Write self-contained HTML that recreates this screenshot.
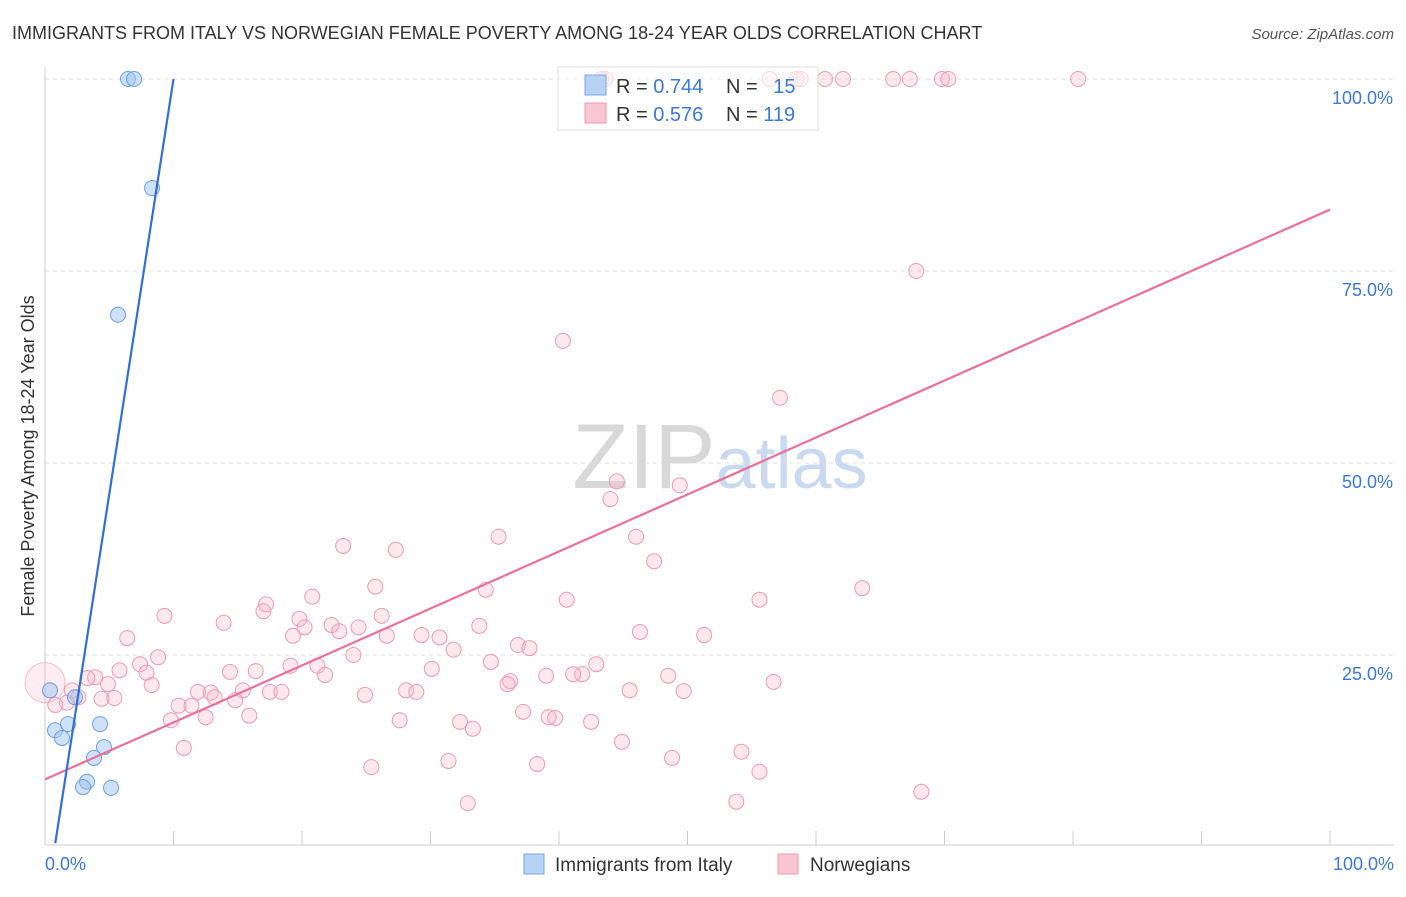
<!DOCTYPE html>
<html><head><meta charset="utf-8">
<style>
body{margin:0;background:#fff;font-family:"Liberation Sans",sans-serif;}
svg text{font-family:"Liberation Sans",sans-serif;}
</style></head><body>
<svg id="chart" width="1406" height="892" xmlns="http://www.w3.org/2000/svg">
<text x="12" y="39" font-size="18" fill="#333">IMMIGRANTS FROM ITALY VS NORWEGIAN FEMALE POVERTY AMONG 18-24 YEAR OLDS CORRELATION CHART</text>
<text x="1394" y="39" font-size="15" fill="#555" text-anchor="end" font-style="italic">Source: ZipAtlas.com</text>
<text x="720" y="488" font-size="92" text-anchor="middle" fill="#ddd" font-family="Liberation Serif"><tspan fill="#d8d8d8">ZIP</tspan><tspan fill="#c9daf0" font-family="Liberation Sans" font-size="72">atlas</tspan></text>
<text transform="translate(34,456) rotate(-90)" font-size="18" fill="#333" text-anchor="middle">Female Poverty Among 18-24 Year Olds</text>
<g id="grid"></g>
<g id="marks"></g>
<g>
<rect x="558" y="67" width="260" height="63" fill="#fff" fill-opacity="0.6" stroke="#ddd"/>
<rect x="585" y="75" width="21" height="20" fill="#b8d2f4" stroke="#7aa6e6"/>
<rect x="585" y="103" width="21" height="20" fill="#f9c6d4" stroke="#eb9ab2"/>
<text x="616" y="93" font-size="20" fill="#333">R = <tspan fill="#3b78d8">0.744</tspan></text>
<text x="726" y="93" font-size="20" fill="#333">N = <tspan fill="#3b78d8" dx="10">15</tspan></text>
<text x="616" y="121" font-size="20" fill="#333">R = <tspan fill="#3b78d8">0.576</tspan></text>
<text x="726" y="121" font-size="20" fill="#333">N = <tspan fill="#3b78d8">119</tspan></text>
</g>
<g>
<rect x="524" y="854" width="20" height="20" fill="#b8d2f4" stroke="#7aa6e6"/>
<text x="555" y="871" font-size="19" fill="#333">Immigrants from Italy</text>
<rect x="778" y="854" width="20" height="20" fill="#f9c6d4" stroke="#eb9ab2"/>
<text x="810" y="871" font-size="19" fill="#333">Norwegians</text>
</g>
</svg>
<script>
const yTicks=[25,50,75,100];
const yTickLabels=["25.0%","50.0%","75.0%","100.0%"];
const xTicks=[0,10,20,30,40,50,60,70,80,90,100];
const blueX=[6.46,6.93,8.33,5.68,0.39,2.33,0.78,1.32,1.79,4.28,4.59,3.81,3.27,2.96,5.14];
const blueY=[100,100,85.8,69.3,20.4,19.5,15.2,14.2,16.0,16.0,13.0,11.6,8.5,7.8,7.7];
const pinkX=[43.3,43.6,56.4,58.5,58.8,60.7,62.1,66.0,67.3,69.8,70.3,80.4,67.8,40.3,57.2,44.5,44.0,49.4,35.3,46.0,23.2,27.3,47.4,34.3,25.7,40.6,55.6,63.6,20.8,17.2,17.0,9.3,13.9,19.8,26.2,46.3,51.3,33.8,22.3,20.2,19.3,22.9,24.4,26.6,29.3,30.7,31.8,36.8,37.7,6.4,8.8,7.4,42.9,34.7,21.2,19.1,30.1,41.8,41.1,24.0,7.9,5.8,16.4,14.4,48.5,21.8,36.2,36.0,39.0,56.7,3.9,3.3,4.9,8.3,2.6,1.7,4.4,5.4,11.9,12.9,13.2,15.4,17.5,18.4,14.8,28.1,28.9,24.9,45.5,49.7,10.4,11.4,12.5,15.9,9.8,27.6,32.3,37.2,39.2,39.7,42.5,33.3,44.9,10.8,54.2,48.8,31.4,38.3,25.4,55.6,32.9,53.8,68.2,2.1,0.8];
const pinkY=[100,100,100,100,100,100,100,100,100,100,100,100,75.0,65.9,58.5,47.6,45.3,47.1,40.4,40.4,39.2,38.7,37.2,33.5,33.9,32.2,32.2,33.7,32.6,31.6,30.7,30.1,29.2,29.7,30.1,28.0,27.6,28.8,28.9,28.6,27.5,28.1,28.6,27.5,27.6,27.3,25.7,26.3,25.9,27.2,24.7,23.8,23.8,24.1,23.6,23.6,23.2,22.5,22.5,25.0,22.7,23.0,22.9,22.8,22.3,22.4,21.6,21.2,22.3,21.5,22.1,22.0,21.2,21.1,19.5,18.8,19.3,19.4,20.2,20.1,19.5,20.4,20.2,20.2,19.1,20.4,20.2,19.8,20.4,20.3,18.4,18.4,16.9,17.1,16.5,16.5,16.3,17.6,16.9,16.8,16.3,15.4,13.7,12.9,12.4,11.6,11.2,10.8,10.4,9.8,5.7,5.9,7.2,20.4,18.5];
const blueLine=[[0.8,0.5],[10,100]];
const pinkLine=[[0,8.8],[100,83.0]];
const X=v=>45+v*12.85, Y=v=>847-v*7.68;
const NS="http://www.w3.org/2000/svg";
const grid=document.getElementById('grid'), marks=document.getElementById('marks');
function mk(tag,attrs,parent){const e=document.createElementNS(NS,tag);for(const k in attrs)e.setAttribute(k,attrs[k]);parent.appendChild(e);return e;}
yTicks.forEach((t,i)=>{
 const l=mk('line',{x1:45,x2:1394,y1:Y(t),y2:Y(t),stroke:'#ddd','stroke-dasharray':'4,4'},grid);
 
 
 const tx=mk('text',{x:1393,y:Y(t)+25,'font-size':18,fill:'#3b78d8','text-anchor':'end'},grid);
 tx.textContent=yTickLabels[i];
 
 
});
const ax=mk('line',{x1:45,x2:1394,y1:845,y2:845,stroke:'#ccc'},grid);


const ay=mk('line',{x1:45,x2:45,y1:67,y2:845,stroke:'#ccc'},grid);


xTicks.forEach(t=>{
 const l=mk('line',{x1:X(t),x2:X(t),y1:831,y2:845,stroke:'#ccc'},grid);
 
 
});
[[0,"0.0%",45,'start'],[100,"100.0%",1394,'end']].forEach(a=>{
 const tx=mk('text',{x:a[2],y:870,'font-size':18,fill:'#3b78d8','text-anchor':a[3]},grid);
 tx.textContent=a[1];
 
 
});
const big=mk('circle',{cx:X(0),cy:Y(21.4),r:20,fill:'rgba(248,180,200,0.25)',stroke:'#eb9ab2','stroke-width':1,'stroke-opacity':0.6},marks);


pinkX.forEach((v,i)=>{
 const c=mk('circle',{cx:X(v),cy:Y(pinkY[i]),r:7.5,fill:'rgba(248,180,200,0.3)',stroke:'#eb9ab2','stroke-width':1},marks);
 
 
});
blueX.forEach((v,i)=>{
 const c=mk('circle',{cx:X(v),cy:Y(blueY[i]),r:7.5,fill:'rgba(160,195,240,0.5)',stroke:'#6a9ee0','stroke-width':1},marks);
 
 
});
const pl=mk('line',{x1:X(pinkLine[0][0]),y1:Y(pinkLine[0][1]),x2:X(pinkLine[1][0]),y2:Y(pinkLine[1][1]),stroke:'#e8709a','stroke-width':2.2},marks);


const bl=mk('line',{x1:X(blueLine[0][0]),y1:Y(blueLine[0][1]),x2:X(blueLine[1][0]),y2:Y(blueLine[1][1]),stroke:'#2f6fd6','stroke-width':2.2},marks);


</script>
</body></html>
